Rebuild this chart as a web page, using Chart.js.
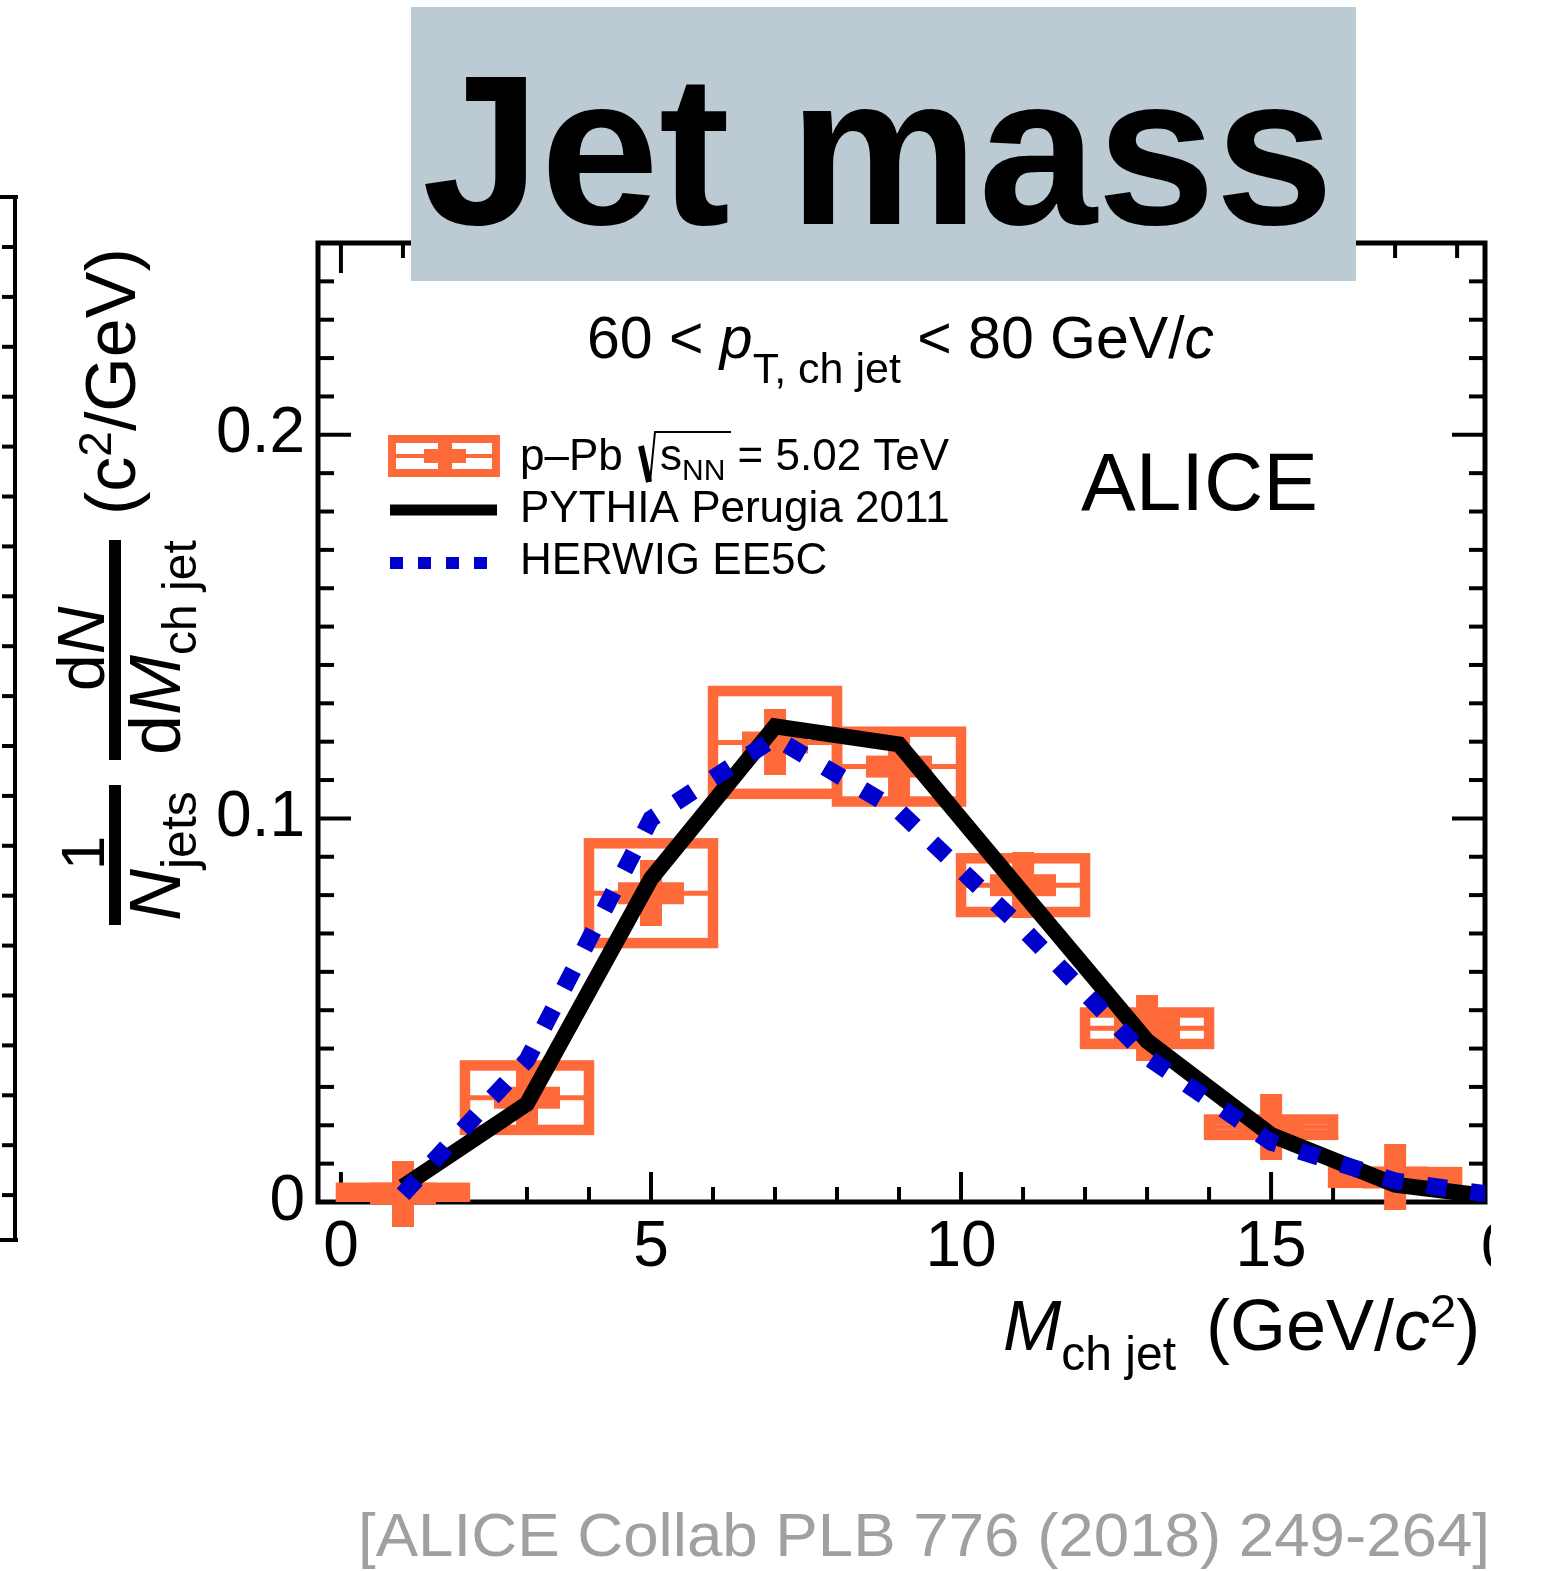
<!DOCTYPE html>
<html>
<head>
<meta charset="utf-8">
<title>Jet mass</title>
<script src="https://cdn.jsdelivr.net/npm/chart.js@4.4.1/dist/chart.umd.min.js"></script>
<style>
  html, body { margin: 0; padding: 0; background: #fff; }
  canvas { display: block; }
</style>
</head>
<body>
<canvas id="jetMassChart" width="1557" height="1571"></canvas>
<script>
// measured bins (GeV/c^2), p-Pb at sqrt(sNN) = 5.02 TeV
const binCentres = [1, 3, 5, 7, 9, 11, 13, 15, 17];
const binHalfWidth = 1;
const pPbValues = [0.0022, 0.0272, 0.0805, 0.1198, 0.1135, 0.0826, 0.0453, 0.0195, 0.0064];
const pPbSys = [0.0015, 0.0084, 0.0130, 0.0134, 0.0091, 0.0070, 0.0041, 0.0020, 0.0014];

// model curves
const modelMass = [1, 3, 5, 7, 9, 11, 13, 15, 17, 19];
const pythiaValues = [0.0040, 0.0256, 0.0843, 0.1240, 0.1193, 0.0805, 0.0420, 0.0175, 0.0045, 0.0005];
const herwigValues = [0.0020, 0.0370, 0.0999, 0.1210, 0.1019, 0.0712, 0.0378, 0.0156, 0.0055, 0.0009];

// axes
const xTickValues = [0, 5, 10, 15];
const xTickLabels = ['0', '5', '10', '15'];
const yTickValues = [0, 0.1, 0.2];
const yTickLabels = ['0', '0.1', '0.2'];
const xMinorStep = 1;
const yMinorStep = 0.01;

const FONT = "'Liberation Sans', Arial, sans-serif";
const ORANGE = '#ff6a3b';
const BLUE = '#0000cc';

function crossMarker(size, colour) {
  const c = document.createElement('canvas');
  c.width = size;
  c.height = size;
  const g = c.getContext('2d');
  const arm = size / 3;
  g.fillStyle = colour;
  g.fillRect(arm, 0, arm, size);
  g.fillRect(0, arm, size, arm);
  return c;
}

function line(ctx, x0, y0, x1, y1) {
  ctx.beginPath();
  ctx.moveTo(x0, y0);
  ctx.lineTo(x1, y1);
  ctx.stroke();
}

// draws a row of text pieces (sub/superscripts, italics) from x, returns end x
function drawParts(ctx, x, y, parts) {
  let cx = x;
  parts.forEach(p => {
    ctx.font = (p.italic ? 'italic ' : '') + p.size + 'px ' + FONT;
    ctx.fillText(p.text, cx, y + (p.dy || 0));
    cx += ctx.measureText(p.text).width + (p.gap || 0);
  });
  return cx;
}

const frame = {
  id: 'frame',
  beforeDatasetsDraw(chart) {
    const { ctx, chartArea: a, scales: { x, y } } = chart;
    ctx.save();
    ctx.strokeStyle = '#000';
    ctx.lineWidth = 4;
    for (let m = Math.ceil(x.min); m <= x.max; m += xMinorStep) {
      const px = x.getPixelForValue(m);
      const len = m % 5 === 0 ? 30 : 15;
      line(ctx, px, a.bottom, px, a.bottom - len);
      line(ctx, px, a.top, px, a.top + len);
    }
    for (let k = 1; k * yMinorStep <= y.max + 1e-9; k++) {
      const py = y.getPixelForValue(k * yMinorStep);
      const len = k % 10 === 0 ? 33 : 16;
      line(ctx, a.left, py, a.left + len, py);
      line(ctx, a.right, py, a.right - len, py);
    }
    ctx.lineWidth = 5;
    ctx.strokeRect(a.left, a.top, a.right - a.left, a.bottom - a.top);
    ctx.restore();
  }
};

// systematic boxes and bin-width bars of the p-Pb points
const pPbBoxes = {
  id: 'pPbBoxes',
  beforeDatasetsDraw(chart) {
    const { ctx, chartArea: a, scales: { x, y } } = chart;
    ctx.save();
    ctx.beginPath();
    ctx.rect(a.left, a.top, a.right - a.left, a.bottom - a.top);
    ctx.clip();
    ctx.strokeStyle = ORANGE;
    binCentres.forEach((m, i) => {
      const x0 = x.getPixelForValue(m - binHalfWidth);
      const x1 = x.getPixelForValue(m + binHalfWidth);
      const y0 = y.getPixelForValue(pPbValues[i] + pPbSys[i]);
      const y1 = y.getPixelForValue(pPbValues[i] - pPbSys[i]);
      const yc = y.getPixelForValue(pPbValues[i]);
      ctx.lineWidth = 10.5;
      ctx.strokeRect(x0, y0, x1 - x0, y1 - y0);
      ctx.lineWidth = 5;
      line(ctx, x0, yc, x1, yc);
    });
    ctx.restore();
  }
};

const decorations = {
  id: 'decorations',
  afterDraw(chart) {
    const ctx = chart.ctx;
    ctx.save();
    ctx.fillStyle = '#000';
    ctx.strokeStyle = '#000';
    ctx.textBaseline = 'alphabetic';
    ctx.textAlign = 'left';

    // title box over the top of the frame
    ctx.fillStyle = '#bccad3';
    ctx.fillRect(411, 7, 945, 274);
    ctx.fillStyle = '#000';
    ctx.font = 'bold 213px ' + FONT;
    ctx.fillText('Jet mass', 422, 224);

    // kinematic selection
    drawParts(ctx, 587, 358, [
      { text: '60 < ', size: 59 },
      { text: 'p', size: 59, italic: true },
      { text: 'T, ch jet', size: 43, dy: 25 },
      { text: ' < 80 GeV/', size: 59 },
      { text: 'c', size: 59, italic: true }
    ]);

    // legend
    ctx.strokeStyle = ORANGE;
    ctx.lineWidth = 8;
    ctx.strokeRect(392, 439, 104, 34);
    ctx.lineWidth = 4;
    line(ctx, 392, 456, 496, 456);
    ctx.fillStyle = ORANGE;
    ctx.fillRect(424, 449, 42, 14);
    ctx.fillRect(438, 440, 14, 32);
    ctx.fillStyle = '#000';
    ctx.strokeStyle = '#000';

    let cx = drawParts(ctx, 520, 470, [{ text: 'p\u2013Pb ', size: 44 }]);
    ctx.lineWidth = 6;
    ctx.beginPath();
    ctx.moveTo(cx + 6, 446);
    ctx.lineTo(cx + 14, 482);
    ctx.stroke();
    ctx.lineWidth = 2;
    ctx.beginPath();
    ctx.moveTo(cx + 15, 482);
    ctx.lineTo(cx + 20, 432);
    ctx.lineTo(cx + 96, 432);
    ctx.stroke();
    drawParts(ctx, cx + 25, 470, [
      { text: 's', size: 44 },
      { text: 'NN', size: 30, dy: 10 },
      { text: ' = 5.02 TeV', size: 44 }
    ]);

    ctx.lineWidth = 11;
    line(ctx, 390, 510, 497, 510);
    ctx.strokeStyle = BLUE;
    ctx.lineWidth = 12;
    ctx.setLineDash([13, 15]);
    line(ctx, 390, 563, 490, 563);
    ctx.setLineDash([]);
    drawParts(ctx, 520, 522, [{ text: 'PYTHIA Perugia 2011', size: 44 }]);
    drawParts(ctx, 520, 574, [{ text: 'HERWIG EE5C', size: 44 }]);

    ctx.font = '82px ' + FONT;
    ctx.fillText('ALICE', 1081, 510);

    // x axis title
    drawParts(ctx, 1003, 1350, [
      { text: 'M', size: 70, italic: true },
      { text: 'ch jet', size: 48, dy: 20, gap: 30 },
      { text: '(GeV/', size: 72 },
      { text: 'c', size: 72, italic: true },
      { text: '2', size: 47, dy: -23 },
      { text: ')', size: 72 }
    ]);

    // cut tick label at the right edge
    ctx.save();
    ctx.beginPath();
    ctx.rect(1480, 1212, 11, 66);
    ctx.clip();
    ctx.font = '64px ' + FONT;
    ctx.fillText('0', 1481, 1268);
    ctx.restore();

    // y axis title, rotated: local (u, v) -> screen (v, 925 - u)
    ctx.save();
    ctx.translate(0, 925);
    ctx.rotate(-Math.PI / 2);
    ctx.fillRect(0, 109, 140, 12);
    ctx.font = '62px ' + FONT;
    ctx.textAlign = 'center';
    ctx.fillText('1', 72, 104);
    ctx.textAlign = 'left';
    drawParts(ctx, 4, 180, [
      { text: 'N', size: 72, italic: true },
      { text: 'jets', size: 50, dy: 16 }
    ]);
    ctx.fillRect(165, 109, 220, 12);
    drawParts(ctx, 234, 104, [
      { text: 'd', size: 66 },
      { text: 'N', size: 66, italic: true }
    ]);
    drawParts(ctx, 170, 180, [
      { text: 'd', size: 72 },
      { text: 'M', size: 72, italic: true },
      { text: 'ch jet', size: 48, dy: 16 }
    ]);
    drawParts(ctx, 410, 135, [
      { text: '(c', size: 70 },
      { text: '2', size: 46, dy: -24 },
      { text: '/GeV)', size: 70 }
    ]);
    ctx.restore();

    // edge of the neighbouring panel
    ctx.strokeStyle = '#000';
    ctx.lineWidth = 4;
    line(ctx, 15, 197, 15, 1240);
    line(ctx, 0, 197, 18, 197);
    line(ctx, 0, 1240, 18, 1240);
    for (let k = 0; k < 20; k++) {
      const ty = 247 + k * 49.9;
      line(ctx, 2, ty, 15, ty);
    }

    // reference
    ctx.fillStyle = '#a0a0a0';
    ctx.font = '62px ' + FONT;
    const cite = '[ALICE Collab PLB 776 (2018) 249-264]';
    const w = ctx.measureText(cite).width;
    ctx.save();
    ctx.translate(358, 1556);
    ctx.scale(1132 / w, 1);
    ctx.fillText(cite, 0, 0);
    ctx.restore();

    ctx.restore();
  }
};

new Chart(document.getElementById('jetMassChart'), {
  type: 'line',
  data: {
    datasets: [
      {
        label: 'HERWIG EE5C',
        data: modelMass.map((m, i) => ({ x: m, y: herwigValues[i] })),
        borderColor: BLUE,
        borderWidth: 17,
        borderDash: [20, 24],
        borderCapStyle: 'butt',
        borderJoinStyle: 'miter',
        pointRadius: 0,
        tension: 0,
        clip: 0,
        order: 1
      },
      {
        label: 'PYTHIA Perugia 2011',
        data: modelMass.map((m, i) => ({ x: m, y: pythiaValues[i] })),
        borderColor: '#000',
        borderWidth: 16,
        borderCapStyle: 'butt',
        borderJoinStyle: 'miter',
        pointRadius: 0,
        tension: 0,
        clip: 0,
        order: 2
      },
      {
        label: 'p\u2013Pb',
        data: binCentres.map((m, i) => ({ x: m, y: pPbValues[i] })),
        showLine: false,
        pointStyle: crossMarker(66, ORANGE),
        pointRadius: 33,
        pointBorderWidth: 0,
        clip: false,
        order: 3
      }
    ]
  },
  options: {
    responsive: false,
    animation: false,
    devicePixelRatio: 1,
    events: [],
    layout: { padding: { left: 0, right: 72, top: 243, bottom: 0 } },
    plugins: {
      legend: { display: false },
      tooltip: { enabled: false }
    },
    scales: {
      x: {
        type: 'linear',
        min: -0.37,
        max: 18.45,
        grid: { display: false, drawTicks: false },
        border: { display: false },
        afterBuildTicks: s => { s.ticks = xTickValues.map(v => ({ value: v })); },
        afterFit: s => { s.height = 369; },
        ticks: {
          color: '#000',
          font: { family: FONT, size: 64 },
          padding: 8,
          maxRotation: 0,
          autoSkip: false,
          callback: (v, i) => xTickLabels[i]
        }
      },
      y: {
        type: 'linear',
        min: 0,
        max: 0.25,
        grid: { display: false, drawTicks: false },
        border: { display: false },
        afterBuildTicks: s => { s.ticks = yTickValues.map(v => ({ value: v })); },
        afterFit: s => { s.width = 318; },
        ticks: {
          color: '#000',
          font: { family: FONT, size: 64 },
          padding: 13,
          autoSkip: false,
          callback: (v, i) => yTickLabels[i]
        }
      }
    }
  },
  plugins: [frame, pPbBoxes, decorations]
});
</script>
</body>
</html>
